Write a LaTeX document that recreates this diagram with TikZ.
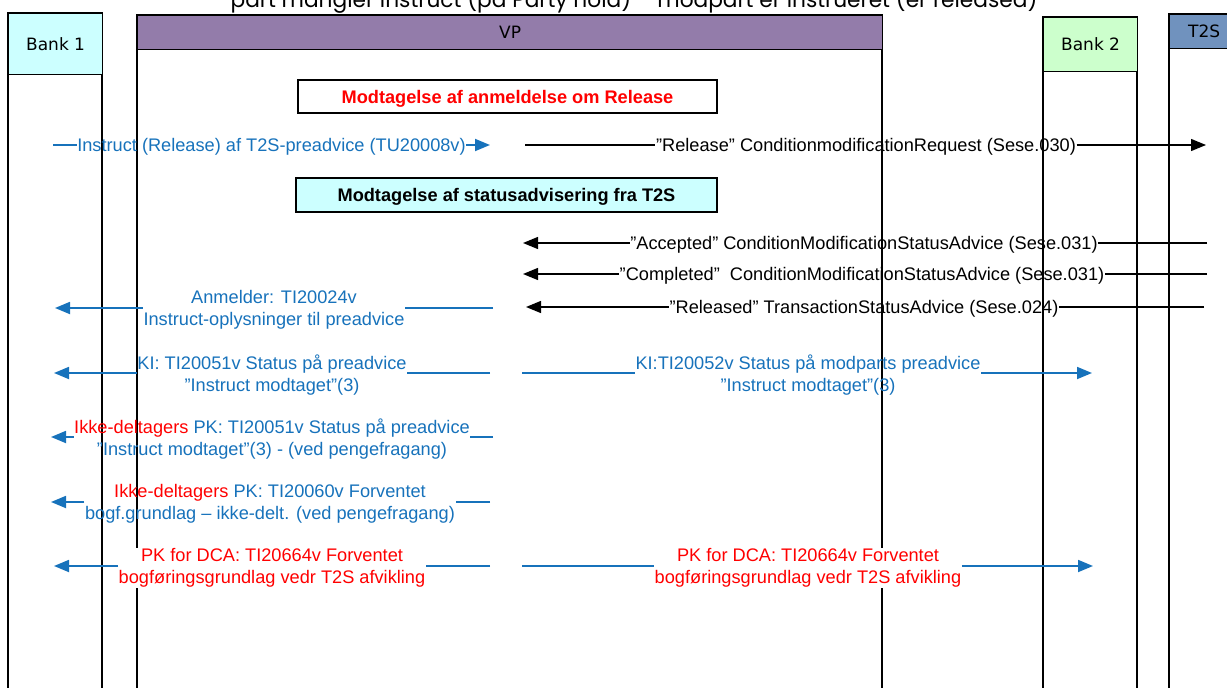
\documentclass[tikz,border=0pt]{standalone}
\usepackage{fontspec}
\setmainfont{Liberation Sans}
\newfontfamily\hdrfont{DejaVu Sans}
\newfontfamily\titlefont{Poppins}
\usetikzlibrary{arrows.meta}
\definecolor{msgblue}{RGB}{23,114,187}
\definecolor{cyanfill}{RGB}{204,255,255}
\definecolor{greenfill}{RGB}{204,255,204}
\definecolor{vpfill}{RGB}{147,124,170}
\definecolor{tsfill}{RGB}{112,146,190}
\begin{document}
\begin{tikzpicture}[x=1pt,y=-1pt,
  lifebox/.style={draw=black,line width=1.2pt},
  hdrbox/.style={draw=black,line width=1.2pt,anchor=north west,inner sep=0pt,
    font=\hdrfont\fontsize{17}{20}\selectfont},
  lbl/.style={inner sep=0.5pt,align=center,yshift=-2pt,font=\fontsize{18.2}{22}\selectfont},
  bluelbl/.style={lbl,text=msgblue},
  blklbl/.style={lbl,text=black},
  blk/.style={draw=black,line width=1.3pt},
  blu/.style={draw=msgblue,line width=1.8pt},
  tipk/.style={-{Triangle[length=15pt,width=12pt]}},
  sectionbox/.style={draw=black,line width=1.2pt,inner sep=0pt,
    font=\bfseries\fontsize{18.2}{20}\selectfont}
]
\useasboundingbox (0,0) rectangle (1227,688);

% title (cut off at the top)
\node[font=\titlefont\fontsize{21.7}{24}\selectfont,anchor=base,inner sep=0pt] (title) at (634,7)
  {part mangler instruct (på Party hold) – modpart er instrueret (er released)};

% lifelines
\draw[lifebox] (8,13) rectangle (102,700);
\node[hdrbox,fill=cyanfill,minimum width=94pt,minimum height=61pt] (bank1) at (8,13) {Bank 1};
\draw[lifebox] (137,15) rectangle (882,700);
\node[hdrbox,fill=vpfill,minimum width=745pt,minimum height=34pt] (vp) at (137,15) {VP};
\draw[lifebox] (1043,17) rectangle (1137,700);
\node[hdrbox,fill=greenfill,minimum width=94pt,minimum height=54pt] (bank2) at (1043,17) {Bank 2};
\draw[lifebox] (1169,14) rectangle (1240,700);
\node[hdrbox,fill=tsfill,minimum width=69pt,minimum height=34pt] (t2s) at (1169,14) {T2S};

% section boxes
\node[sectionbox,fill=white,minimum width=419pt,minimum height=33pt] (sec1) at (507.5,96.5) {};
\node[text=red,font=\bfseries\fontsize{18.2}{20}\selectfont,inner sep=0pt,yshift=-2pt] (sec1t) at (sec1.center)
  {Modtagelse af anmeldelse om Release};
\node[sectionbox,fill=cyanfill,minimum width=421pt,minimum height=34pt] (sec2) at (506.5,195) {};
\node[text=black,font=\bfseries\fontsize{18.2}{20}\selectfont,inner sep=0pt,yshift=-2pt] (sec2t) at (sec2.center)
  {Modtagelse af statusadvisering fra T2S};

% Row A
\node[bluelbl] (mA1) at (271.5,145) {Instruct (Release) af T2S-preadvice (TU20008v)};
\coordinate (mA1s) at (53,145); \coordinate (mA1e) at (490,145);
\draw[blu] (mA1s) -- (mA1s -| mA1.west);
\draw[blu,tipk] (mA1e -| mA1.east) -- (mA1e);
\node[blklbl] (mA2) at (866,145) {”Release” ConditionmodificationRequest (Sese.030)};
\coordinate (mA2s) at (525,145); \coordinate (mA2e) at (1206,145);
\draw[blk] (mA2s) -- (mA2s -| mA2.west);
\draw[blk,tipk] (mA2e -| mA2.east) -- (mA2e);

% Row B
\node[blklbl] (mB) at (864,243) {”Accepted” ConditionModificationStatusAdvice (Sese.031)};
\coordinate (mBs) at (1207,243); \coordinate (mBe) at (523,243);
\draw[blk] (mBs) -- (mBs -| mB.east);
\draw[blk,tipk] (mBe -| mB.west) -- (mBe);

% Row C
\node[blklbl] (mC) at (862,274) {”Completed”\ \ ConditionModificationStatusAdvice (Sese.031)};
\coordinate (mCs) at (1207,274); \coordinate (mCe) at (523,274);
\draw[blk] (mCs) -- (mCs -| mC.east);
\draw[blk,tipk] (mCe -| mC.west) -- (mCe);

% Row D
\node[blklbl] (mD) at (864,307) {”Released” TransactionStatusAdvice (Sese.024)};
\coordinate (mDs) at (1204,307); \coordinate (mDe) at (526,307);
\draw[blk] (mDs) -- (mDs -| mD.east);
\draw[blk,tipk] (mDe -| mD.west) -- (mDe);

\node[bluelbl] (mD2) at (274,308) {Anmelder: TI20024v\\Instruct-oplysninger til preadvice};
\coordinate (mD2s) at (493,308); \coordinate (mD2e) at (55,308);
\draw[blu] (mD2s) -- (mD2s -| mD2.east);
\draw[blu,tipk] (mD2e -| mD2.west) -- (mD2e);

% Row E
\node[bluelbl] (mE1) at (272,373) {KI: TI20051v Status på preadvice\\”Instruct modtaget”(3)};
\coordinate (mE1s) at (490,373); \coordinate (mE1e) at (54,373);
\draw[blu] (mE1s) -- (mE1s -| mE1.east);
\draw[blu,tipk] (mE1e -| mE1.west) -- (mE1e);
\node[bluelbl] (mE2) at (808,373) {KI:TI20052v Status på modparts preadvice\\”Instruct modtaget”(3)};
\coordinate (mE2s) at (522,373); \coordinate (mE2e) at (1092,373);
\draw[blu] (mE2s) -- (mE2s -| mE2.west);
\draw[blu,tipk] (mE2e -| mE2.east) -- (mE2e);

% Row F
\node[bluelbl] (mF) at (272,437) {{\color{red}Ikke-deltagers} PK: TI20051v Status på preadvice\\”Instruct modtaget”(3) - (ved pengefragang)};
\coordinate (mFs) at (493,437); \coordinate (mFe) at (51,437);
\draw[blu] (mFs) -- (mFs -| mF.east);
\draw[blu,tipk] (mFe -| mF.west) -- (mFe);

% Row G
\node[bluelbl] (mG) at (270,502) {{\color{red}Ikke-deltagers} PK: TI20060v Forventet\\bogf.grundlag – ikke-delt. (ved pengefragang)};
\coordinate (mGs) at (490,502); \coordinate (mGe) at (51,502);
\draw[blu] (mGs) -- (mGs -| mG.east);
\draw[blu,tipk] (mGe -| mG.west) -- (mGe);

% Row H
\node[lbl,text=red,fill=white] (mH1) at (272,566) {PK for DCA: TI20664v Forventet\\bogføringsgrundlag vedr T2S afvikling};
\coordinate (mH1s) at (490,566); \coordinate (mH1e) at (54,566);
\draw[blu] (mH1s) -- (mH1s -| mH1.east);
\draw[blu,tipk] (mH1e -| mH1.west) -- (mH1e);
\node[lbl,text=red,fill=white] (mH2) at (808,566) {PK for DCA: TI20664v Forventet\\bogføringsgrundlag vedr T2S afvikling};
\coordinate (mH2s) at (522,566); \coordinate (mH2e) at (1093,566);
\draw[blu] (mH2s) -- (mH2s -| mH2.west);
\draw[blu,tipk] (mH2e -| mH2.east) -- (mH2e);
\end{tikzpicture}
\end{document}
